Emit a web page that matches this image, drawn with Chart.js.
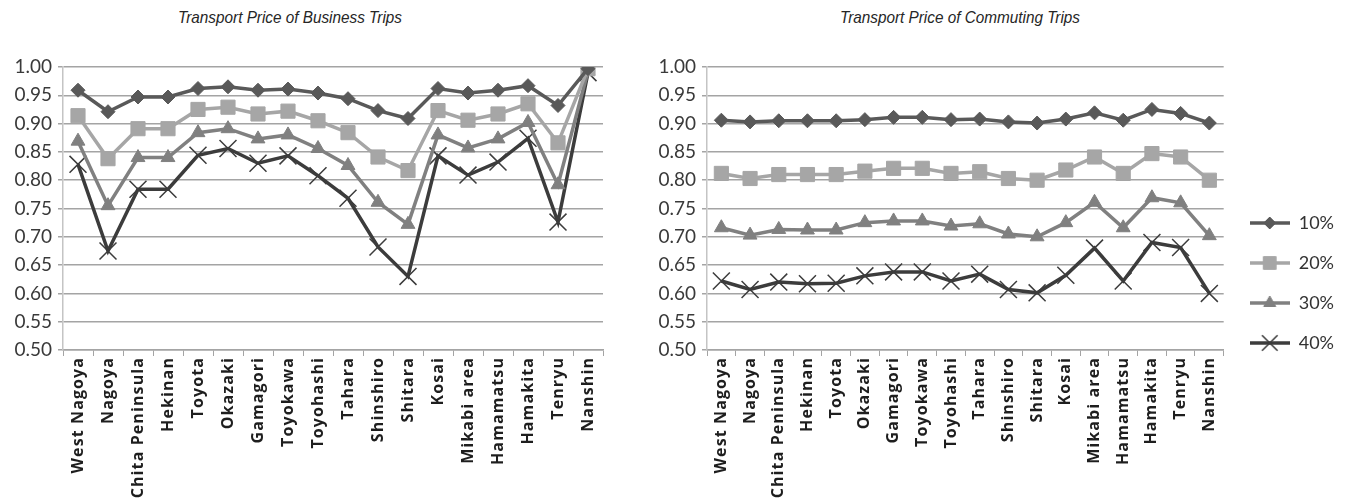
<!DOCTYPE html>
<html>
<head>
<meta charset="utf-8">
<script src="https://cdn.jsdelivr.net/npm/chart.js@4.4.1/dist/chart.umd.min.js"></script>
<style>
  html, body { margin: 0; padding: 0; background: #ffffff; }
  body { width: 1345px; height: 504px; position: relative; overflow: hidden; }
  canvas { position: absolute; top: 0; }
  #businessCanvas { left: 0; }
  #commuteCanvas { left: 640px; }
  .chart-title {
    position: absolute; top: 8px;
    font-family: "Liberation Sans Narrow", "Liberation Sans", sans-serif;
    font-style: italic; font-size: 17px; color: #262626;
    white-space: nowrap; transform: translateX(-50%) scaleX(0.9);
  }
</style>
</head>
<body>
<div class="chart-title" style="left:290px">Transport Price of Business Trips</div>
<div class="chart-title" style="left:960px">Transport Price of Commuting Trips</div>
<canvas id="businessCanvas" width="620" height="504"></canvas>
<canvas id="commuteCanvas" width="705" height="504"></canvas>
<script>
// Areas along the horizontal axis
const areas = ['West Nagoya', 'Nagoya', 'Chita Peninsula', 'Hekinan', 'Toyota', 'Okazaki',
  'Gamagori', 'Toyokawa', 'Toyohashi', 'Tahara', 'Shinshiro', 'Shitara', 'Kosai',
  'Mikabi area', 'Hamamatsu', 'Hamakita', 'Tenryu', 'Nanshin'];

// Series names (price increase levels)
const seriesNames = ['10%', '20%', '30%', '40%'];

// Business trips
const business10 = [0.959, 0.921, 0.947, 0.947, 0.962, 0.965, 0.959, 0.961, 0.954, 0.944, 0.923, 0.909, 0.962, 0.954, 0.959, 0.967, 0.932, 0.997];
const business20 = [0.914, 0.838, 0.891, 0.891, 0.925, 0.929, 0.917, 0.922, 0.905, 0.884, 0.841, 0.817, 0.923, 0.906, 0.917, 0.935, 0.866, 0.997];
const business30 = [0.869, 0.755, 0.840, 0.840, 0.884, 0.891, 0.873, 0.880, 0.856, 0.826, 0.761, 0.722, 0.880, 0.857, 0.873, 0.902, 0.792, 0.993];
const business40 = [0.828, 0.675, 0.784, 0.784, 0.844, 0.856, 0.830, 0.843, 0.808, 0.768, 0.682, 0.630, 0.843, 0.809, 0.832, 0.874, 0.726, 0.990];

// Commuting trips
const commute10 = [0.906, 0.903, 0.905, 0.905, 0.905, 0.907, 0.911, 0.911, 0.907, 0.908, 0.903, 0.901, 0.908, 0.919, 0.906, 0.925, 0.918, 0.901];
const commute20 = [0.812, 0.803, 0.810, 0.810, 0.810, 0.816, 0.821, 0.821, 0.812, 0.815, 0.803, 0.800, 0.818, 0.841, 0.812, 0.847, 0.841, 0.800];
const commute30 = [0.716, 0.703, 0.713, 0.712, 0.712, 0.725, 0.728, 0.728, 0.719, 0.723, 0.705, 0.700, 0.725, 0.761, 0.716, 0.769, 0.760, 0.702];
const commute40 = [0.622, 0.607, 0.620, 0.617, 0.618, 0.631, 0.638, 0.638, 0.622, 0.634, 0.607, 0.601, 0.632, 0.680, 0.622, 0.690, 0.681, 0.600];

// Value axis range
const yMin = 0.50;
const yMax = 1.00;
const yStep = 0.05;

// Look of each series
const seriesStyles = [
  { color: '#595959', pointStyle: 'rectRot',  radius: 7,  pointBorderWidth: 1,   legendRadius: 6 },
  { color: '#a6a6a6', pointStyle: 'rect',     radius: 10, pointBorderWidth: 1,   legendRadius: 9 },
  { color: '#808080', pointStyle: 'triangle', radius: 8,  pointBorderWidth: 1,   legendRadius: 7 },
  { color: '#3c3c3c', pointStyle: 'crossRot', radius: 12, pointBorderWidth: 1.5, legendRadius: 11 }
];

const tickFont = { family: 'Lato, "Open Sans", sans-serif', size: 19 };
const areaFont = { family: '"Open Sans", Lato, sans-serif', size: 16, weight: 'bold' };
const gridColor = '#a4a4a4';

// Line-with-marker swatches for the legend
function makeSwatch(style) {
  const c = document.createElement('canvas');
  c.width = 40; c.height = 22;
  const g = c.getContext('2d');
  g.strokeStyle = style.color;
  g.lineWidth = 3.5;
  g.beginPath(); g.moveTo(0, 11); g.lineTo(40, 11); g.stroke();
  g.fillStyle = style.color;
  g.strokeStyle = style.color;
  g.lineWidth = style.pointBorderWidth;
  Chart.helpers.drawPoint(g, {
    pointStyle: style.pointStyle, radius: style.legendRadius,
    borderWidth: style.pointBorderWidth, rotation: 0
  }, 20, 11);
  return c;
}
const swatches = seriesStyles.map(makeSwatch);

// Moves the legend block to its spot beside the plot
const legendPlacement = {
  id: 'legendPlacement',
  afterLayout(chart, args, opts) {
    const lg = chart.legend;
    if (!lg || !opts || !opts.enabled) return;
    lg.top += opts.shiftY; lg.bottom += opts.shiftY;
    lg.left += opts.shiftX; lg.right += opts.shiftX;
  }
};

// Wider letter spacing for the area names (drawn after the datasets, z = 1)
const areaLabelSpacing = {
  id: 'areaLabelSpacing',
  afterDatasetsDraw(chart) { chart.ctx.letterSpacing = '1.1px'; },
  afterDraw(chart) { chart.ctx.letterSpacing = '0px'; }
};

function buildDatasets(seriesValues) {
  return seriesValues.map((values, i) => {
    const s = seriesStyles[i];
    return {
      label: seriesNames[i],
      data: values,
      borderColor: s.color,
      backgroundColor: s.color,
      borderWidth: 3.5,
      pointStyle: s.pointStyle,
      pointRadius: s.radius,
      pointHoverRadius: s.radius,
      pointBackgroundColor: s.color,
      pointBorderColor: s.color,
      pointBorderWidth: s.pointBorderWidth,
      tension: 0
    };
  });
}

function makeChart(canvasId, seriesValues, axisWidth, padRight, withLegend) {
  return new Chart(document.getElementById(canvasId), {
    type: 'line',
    data: { labels: areas, datasets: buildDatasets(seriesValues) },
    plugins: [legendPlacement, areaLabelSpacing],
    options: {
      responsive: false,
      animation: false,
      devicePixelRatio: 1,
      layout: { padding: { top: 67, right: padRight, bottom: 0, left: 0 } },
      scales: {
        x: {
          type: 'category',
          offset: true,
          grid: {
            display: true, drawOnChartArea: false, drawTicks: true,
            tickLength: 6, offset: true, color: gridColor, lineWidth: 1
          },
          border: { display: true, color: gridColor, width: 1.5 },
          ticks: {
            z: 1,
            autoSkip: false, maxRotation: 90, minRotation: 90, padding: 1,
            font: areaFont, color: '#1e1e1e'
          },
          afterFit(scale) { scale.height = 154; }
        },
        y: {
          min: yMin, max: yMax,
          grid: {
            color: gridColor, lineWidth: 1.5, drawTicks: true, tickLength: 5
          },
          border: { display: true, color: '#c4c4c4', width: 1.5 },
          ticks: {
            stepSize: yStep, padding: 6, font: tickFont, color: '#3a3a3a',
            callback: (v) => Number(v).toFixed(2)
          },
          afterFit(scale) { scale.width = axisWidth; }
        }
      },
      plugins: {
        title: { display: false },
        tooltip: { enabled: false },
        legend: {
          display: withLegend,
          position: 'right',
          align: 'end',
          labels: {
            usePointStyle: true,
            pointStyleWidth: 40,
            padding: 22,
            font: { family: 'Lato, "Open Sans", sans-serif', size: 18 },
            color: '#333333',
            generateLabels(chart) {
              return chart.data.datasets.map((ds, i) => ({
                text: ds.label,
                pointStyle: swatches[i],
                fillStyle: ds.borderColor,
                strokeStyle: ds.borderColor,
                lineWidth: 0,
                hidden: false,
                datasetIndex: i,
                fontColor: '#333333'
              }));
            }
          }
        },
        legendPlacement: { enabled: withLegend, shiftX: 4, shiftY: -130 }
      }
    }
  });
}

makeChart('businessCanvas', [business10, business20, business30, business40], 63, 17, false);
makeChart('commuteCanvas', [commute10, commute20, commute30, commute40], 67, 5, true);
</script>
</body>
</html>
